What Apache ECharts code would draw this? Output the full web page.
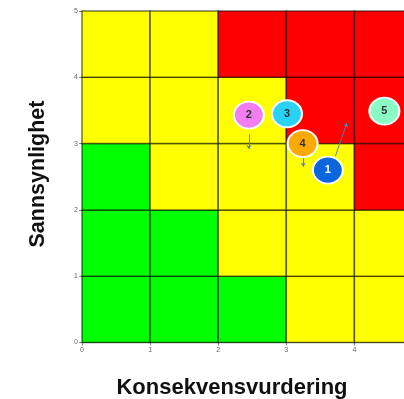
<!DOCTYPE html>
<html>
<head>
<meta charset="utf-8">
<script src="https://cdn.jsdelivr.net/npm/echarts@6/dist/echarts.min.js"></script>
<style>
  html, body { margin: 0; padding: 0; background: #fff; }
  #chart { width: 404px; height: 399px; }
</style>
</head>
<body>
<div id="chart"></div>
<script>
// Risk levels per cell: rows from probability 0-1 (bottom) up to 4-5 (top),
// columns from consequence 0-1 to 4-5. 0 = low, 1 = medium, 2 = high.
const riskRows = [
  [0, 0, 0, 1, 1],
  [0, 0, 1, 1, 1],
  [0, 1, 1, 1, 2],
  [1, 1, 1, 2, 2],
  [1, 1, 2, 2, 2]
];
const levelColors = ['#00ff00', '#ffff00', '#ff0000'];

// Risks: id, consequence, probability
const riskIds = ['1', '2', '3', '4', '5'];
const riskX = [3.61, 2.45, 3.01, 3.24, 4.44];
const riskY = [2.60, 3.43, 3.45, 3.00, 3.49];
const riskColors = ['#0a66dd', '#f07ef0', '#2ad2f5', '#ffaa00', '#88fcc4'];
const riskTextColors = ['#ffffff', '#333333', '#333333', '#333333', '#333333'];

// Movement arrows: [fromX, fromY] -> [toX, toY]
const arrowFrom = [[2.45, 3.14], [3.25, 2.78], [3.72, 2.81]];
const arrowTo = [[2.45, 2.92], [3.25, 2.65], [3.89, 3.31]];

const cellData = [];
riskRows.forEach((row, y) => row.forEach((lvl, x) => cellData.push([x, y, lvl])));

const chart = echarts.init(document.getElementById('chart'));
chart.setOption({
  animation: false,
  graphic: [
    {
      type: 'text',
      x: 232, y: 387.5,
      style: {
        text: 'Konsekvensvurdering',
        align: 'center', verticalAlign: 'middle',
        font: 'bold 22px "Liberation Sans"', fill: '#111'
      }
    },
    {
      type: 'text',
      x: 38, y: 174, rotation: Math.PI / 2,
      style: {
        text: 'Sannsynlighet',
        align: 'center', verticalAlign: 'middle',
        font: 'bold 21.5px "Liberation Sans"', fill: '#111'
      }
    }
  ],
  grid: { left: 82, top: 11, width: 340.5, height: 331.5, outerBoundsMode: 'none', containLabel: false },
  xAxis: {
    type: 'value', min: 0, max: 5, interval: 1,
    axisLine: { show: true, lineStyle: { color: '#555', width: 1 } },
    axisTick: { show: true, length: 3, lineStyle: { color: '#888' } },
    axisLabel: { fontSize: 7, color: '#666', margin: 4, fontFamily: 'Liberation Sans' },
    splitLine: { show: false }
  },
  yAxis: {
    type: 'value', min: 0, max: 5, interval: 1,
    axisLine: { show: true, lineStyle: { color: '#bbb', width: 1 } },
    axisTick: { show: true, length: 3, lineStyle: { color: '#888' } },
    axisLabel: { fontSize: 7, color: '#666', margin: 4, fontFamily: 'Liberation Sans' },
    splitLine: { show: false }
  },
  series: [
    {
      type: 'custom',
      data: cellData,
      silent: true,
      z: 1,
      renderItem: function (params, api) {
        const x = api.value(0), y = api.value(1);
        const p0 = api.coord([x, y + 1]);
        const p1 = api.coord([x + 1, y]);
        return {
          type: 'rect',
          shape: { x: p0[0], y: p0[1], width: p1[0] - p0[0], height: p1[1] - p0[1] },
          style: { fill: levelColors[api.value(2)], stroke: 'rgba(0,0,0,0.55)', lineWidth: 1.5 }
        };
      }
    },
    {
      type: 'lines',
      coordinateSystem: 'cartesian2d',
      z: 3,
      symbol: ['none', 'arrow'],
      symbolSize: [0, 4],
      lineStyle: { color: '#4a86b5', width: 1, opacity: 1 },
      data: arrowFrom.map((f, i) => ({ coords: [f, arrowTo[i]] }))
    },
    {
      type: 'scatter',
      z: 4,
      symbol: 'circle',
      symbolSize: [30, 27],
      data: riskIds.map((id, i) => ({
        value: [riskX[i], riskY[i]],
        name: id,
        itemStyle: { color: riskColors[i], borderColor: '#ffffff', borderWidth: 2, opacity: 1 },
        label: { color: riskTextColors[i] }
      })),
      label: {
        show: true, position: 'inside',
        formatter: p => p.name,
        fontSize: 11, fontWeight: 'bold', fontFamily: 'Liberation Sans'
      }
    }
  ]
});
</script>
</body>
</html>
